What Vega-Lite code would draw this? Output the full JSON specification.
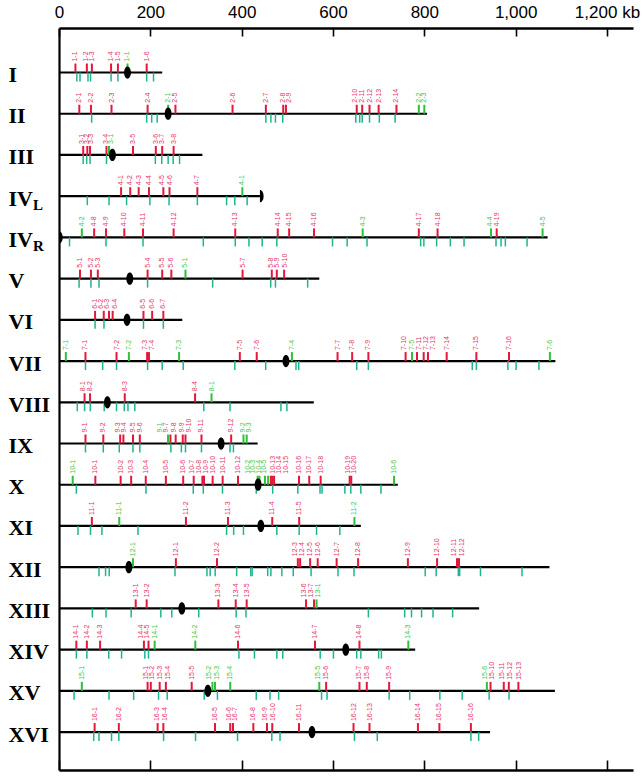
{
  "$schema": "https://vega.github.io/schema/vega-lite/v6.json",
  "width": 574,
  "height": 742,
  "autosize": "none",
  "padding": {"left": 59, "top": 28, "right": 9, "bottom": 9},
  "background": "white",
  "config": {"view": {"stroke": null}},
  "datasets": {
    "chrom": [
      {"chr": "I", "len": 226, "cen": 150},
      {"chr": "II", "len": 806, "cen": 239},
      {"chr": "III", "len": 314, "cen": 117},
      {"chr": "IVL", "len": 440, "cen": 440},
      {"chr": "IVR", "len": 1070, "cen": 0},
      {"chr": "V", "len": 570, "cen": 155},
      {"chr": "VI", "len": 270, "cen": 149},
      {"chr": "VII", "len": 1087, "cen": 497},
      {"chr": "VIII", "len": 558, "cen": 106},
      {"chr": "IX", "len": 435, "cen": 355},
      {"chr": "X", "len": 742, "cen": 436},
      {"chr": "XI", "len": 661, "cen": 442},
      {"chr": "XII", "len": 1074, "cen": 153},
      {"chr": "XIII", "len": 920, "cen": 269},
      {"chr": "XIV", "len": 780, "cen": 628},
      {"chr": "XV", "len": 1086, "cen": 326},
      {"chr": "XVI", "len": 944, "cen": 554}
    ],
    "sub": [
      {"chr": "IVL", "s": "L"},
      {"chr": "IVR", "s": "R"}
    ],
    "above": [
      {"chr": "I", "kb": 36, "lkb": 36, "lab": "1-1", "kind": "r"},
      {"chr": "I", "kb": 61, "lkb": 59, "lab": "1-2", "kind": "r"},
      {"chr": "I", "kb": 72, "lkb": 72, "lab": "1-3", "kind": "r"},
      {"chr": "I", "kb": 114, "lkb": 114, "lab": "1-4", "kind": "r"},
      {"chr": "I", "kb": 129, "lkb": 129, "lab": "1-5", "kind": "r"},
      {"chr": "I", "kb": 150, "lkb": 150, "lab": "1-1", "kind": "g"},
      {"chr": "I", "kb": 192, "lkb": 192, "lab": "1-6", "kind": "r"},
      {"chr": "II", "kb": 44.5, "lkb": 44.5, "lab": "2-1", "kind": "r"},
      {"chr": "II", "kb": 70, "lkb": 70, "lab": "2-2", "kind": "r"},
      {"chr": "II", "kb": 115, "lkb": 115, "lab": "2-3", "kind": "r"},
      {"chr": "II", "kb": 194, "lkb": 194, "lab": "2-4", "kind": "r"},
      {"chr": "II", "kb": 239, "lkb": 239, "lab": "2-1", "kind": "g"},
      {"chr": "II", "kb": 255, "lkb": 255, "lab": "2-5", "kind": "r"},
      {"chr": "II", "kb": 380, "lkb": 380, "lab": "2-6", "kind": "r"},
      {"chr": "II", "kb": 453, "lkb": 453, "lab": "2-7", "kind": "r"},
      {"chr": "II", "kb": 491, "lkb": 490, "lab": "2-8", "kind": "r"},
      {"chr": "II", "kb": 497, "lkb": 503, "lab": "2-9", "kind": "r"},
      {"chr": "II", "kb": 652, "lkb": 648, "lab": "2-10", "kind": "r"},
      {"chr": "II", "kb": 664, "lkb": 664, "lab": "2-11", "kind": "r"},
      {"chr": "II", "kb": 680, "lkb": 680, "lab": "2-12", "kind": "r"},
      {"chr": "II", "kb": 700, "lkb": 700, "lab": "2-13", "kind": "r"},
      {"chr": "II", "kb": 739, "lkb": 739, "lab": "2-14", "kind": "r"},
      {"chr": "II", "kb": 788, "lkb": 788, "lab": "2-2", "kind": "g"},
      {"chr": "II", "kb": 800, "lkb": 800, "lab": "2-3", "kind": "g"},
      {"chr": "III", "kb": 53, "lkb": 51, "lab": "3-1", "kind": "r"},
      {"chr": "III", "kb": 62, "lkb": 61, "lab": "3-2", "kind": "r"},
      {"chr": "III", "kb": 68, "lkb": 70, "lab": "3-3", "kind": "r"},
      {"chr": "III", "kb": 104, "lkb": 103, "lab": "3-4", "kind": "r"},
      {"chr": "III", "kb": 109.5, "lkb": 114, "lab": "3-1", "kind": "g"},
      {"chr": "III", "kb": 162, "lkb": 162, "lab": "3-5", "kind": "r"},
      {"chr": "III", "kb": 212, "lkb": 212, "lab": "3-6", "kind": "r"},
      {"chr": "III", "kb": 226, "lkb": 226, "lab": "3-7", "kind": "r"},
      {"chr": "III", "kb": 251, "lkb": 251, "lab": "3-8", "kind": "r"},
      {"chr": "IVL", "kb": 136, "lkb": 136, "lab": "4-1", "kind": "r"},
      {"chr": "IVL", "kb": 156, "lkb": 156, "lab": "4-2", "kind": "r"},
      {"chr": "IVL", "kb": 174.5, "lkb": 174.5, "lab": "4-3", "kind": "r"},
      {"chr": "IVL", "kb": 197, "lkb": 197, "lab": "4-4", "kind": "r"},
      {"chr": "IVL", "kb": 228.5, "lkb": 226, "lab": "4-5", "kind": "r"},
      {"chr": "IVL", "kb": 242, "lkb": 242, "lab": "4-6", "kind": "r"},
      {"chr": "IVL", "kb": 303, "lkb": 303, "lab": "4-7", "kind": "r"},
      {"chr": "IVL", "kb": 401.5, "lkb": 401.5, "lab": "4-1", "kind": "g"},
      {"chr": "IVR", "kb": 50, "lkb": 50, "lab": "4-2", "kind": "g"},
      {"chr": "IVR", "kb": 77, "lkb": 77, "lab": "4-8", "kind": "r"},
      {"chr": "IVR", "kb": 103, "lkb": 103, "lab": "4-9", "kind": "r"},
      {"chr": "IVR", "kb": 143, "lkb": 143, "lab": "4-10", "kind": "r"},
      {"chr": "IVR", "kb": 184, "lkb": 184, "lab": "4-11", "kind": "r"},
      {"chr": "IVR", "kb": 251, "lkb": 251, "lab": "4-12", "kind": "r"},
      {"chr": "IVR", "kb": 386, "lkb": 386, "lab": "4-13", "kind": "r"},
      {"chr": "IVR", "kb": 479, "lkb": 479, "lab": "4-14", "kind": "r"},
      {"chr": "IVR", "kb": 504, "lkb": 504, "lab": "4-15", "kind": "r"},
      {"chr": "IVR", "kb": 558.5, "lkb": 558.5, "lab": "4-16", "kind": "r"},
      {"chr": "IVR", "kb": 665, "lkb": 665, "lab": "4-3", "kind": "g"},
      {"chr": "IVR", "kb": 788, "lkb": 788, "lab": "4-17", "kind": "r"},
      {"chr": "IVR", "kb": 829, "lkb": 829, "lab": "4-18", "kind": "r"},
      {"chr": "IVR", "kb": 946, "lkb": 944, "lab": "4-4", "kind": "g"},
      {"chr": "IVR", "kb": 958.5, "lkb": 960, "lab": "4-19", "kind": "r"},
      {"chr": "IVR", "kb": 1059, "lkb": 1059, "lab": "4-5", "kind": "g"},
      {"chr": "V", "kb": 46, "lkb": 46, "lab": "5-1", "kind": "r"},
      {"chr": "V", "kb": 70, "lkb": 70, "lab": "5-2", "kind": "r"},
      {"chr": "V", "kb": 85, "lkb": 85, "lab": "5-3", "kind": "r"},
      {"chr": "V", "kb": 194, "lkb": 194, "lab": "5-4", "kind": "r"},
      {"chr": "V", "kb": 226, "lkb": 226, "lab": "5-5", "kind": "r"},
      {"chr": "V", "kb": 246, "lkb": 246, "lab": "5-6", "kind": "r"},
      {"chr": "V", "kb": 277, "lkb": 277, "lab": "5-1", "kind": "g"},
      {"chr": "V", "kb": 402, "lkb": 402, "lab": "5-7", "kind": "r"},
      {"chr": "V", "kb": 466, "lkb": 463.6, "lab": "5-8", "kind": "r"},
      {"chr": "V", "kb": 477, "lkb": 478, "lab": "5-9", "kind": "r"},
      {"chr": "V", "kb": 493, "lkb": 495, "lab": "5-10", "kind": "r"},
      {"chr": "VI", "kb": 79, "lkb": 79.6, "lab": "6-1", "kind": "r"},
      {"chr": "VI", "kb": 98, "lkb": 91, "lab": "6-2", "kind": "r"},
      {"chr": "VI", "kb": 109.5, "lkb": 106, "lab": "6-3", "kind": "r"},
      {"chr": "VI", "kb": 117.5, "lkb": 122.6, "lab": "6-4", "kind": "r"},
      {"chr": "VI", "kb": 185, "lkb": 185, "lab": "6-5", "kind": "r"},
      {"chr": "VI", "kb": 204, "lkb": 204, "lab": "6-6", "kind": "r"},
      {"chr": "VI", "kb": 228.5, "lkb": 228.5, "lab": "6-7", "kind": "r"},
      {"chr": "VII", "kb": 15, "lkb": 15, "lab": "7-1", "kind": "g"},
      {"chr": "VII", "kb": 58, "lkb": 58, "lab": "7-1", "kind": "r"},
      {"chr": "VII", "kb": 126, "lkb": 126, "lab": "7-2", "kind": "r"},
      {"chr": "VII", "kb": 153, "lkb": 153, "lab": "7-2", "kind": "g"},
      {"chr": "VII", "kb": 193, "lkb": 188, "lab": "7-3", "kind": "r"},
      {"chr": "VII", "kb": 197, "lkb": 203, "lab": "7-4", "kind": "r"},
      {"chr": "VII", "kb": 263, "lkb": 263, "lab": "7-3", "kind": "g"},
      {"chr": "VII", "kb": 396, "lkb": 396, "lab": "7-5", "kind": "r"},
      {"chr": "VII", "kb": 433, "lkb": 433, "lab": "7-6", "kind": "r"},
      {"chr": "VII", "kb": 510, "lkb": 510, "lab": "7-4", "kind": "g"},
      {"chr": "VII", "kb": 610, "lkb": 610, "lab": "7-7", "kind": "r"},
      {"chr": "VII", "kb": 642, "lkb": 642, "lab": "7-8", "kind": "r"},
      {"chr": "VII", "kb": 677.5, "lkb": 677.5, "lab": "7-9", "kind": "r"},
      {"chr": "VII", "kb": 759, "lkb": 755.6, "lab": "7-10", "kind": "r"},
      {"chr": "VII", "kb": 773, "lkb": 772.4, "lab": "7-5", "kind": "g"},
      {"chr": "VII", "kb": 784, "lkb": 788.4, "lab": "7-11", "kind": "r"},
      {"chr": "VII", "kb": 798.6, "lkb": 803.7, "lab": "7-12", "kind": "r"},
      {"chr": "VII", "kb": 808, "lkb": 819.8, "lab": "7-13", "kind": "r"},
      {"chr": "VII", "kb": 849, "lkb": 849, "lab": "7-14", "kind": "r"},
      {"chr": "VII", "kb": 914, "lkb": 914, "lab": "7-15", "kind": "r"},
      {"chr": "VII", "kb": 985.5, "lkb": 985.5, "lab": "7-16", "kind": "r"},
      {"chr": "VII", "kb": 1075, "lkb": 1075, "lab": "7-6", "kind": "g"},
      {"chr": "VIII", "kb": 56, "lkb": 52, "lab": "8-1", "kind": "r"},
      {"chr": "VIII", "kb": 68, "lkb": 68, "lab": "8-2", "kind": "r"},
      {"chr": "VIII", "kb": 144, "lkb": 144, "lab": "8-3", "kind": "r"},
      {"chr": "VIII", "kb": 298, "lkb": 298, "lab": "8-4", "kind": "r"},
      {"chr": "VIII", "kb": 334, "lkb": 334, "lab": "8-1", "kind": "g"},
      {"chr": "IX", "kb": 58, "lkb": 58, "lab": "9-1", "kind": "r"},
      {"chr": "IX", "kb": 97, "lkb": 97, "lab": "9-2", "kind": "r"},
      {"chr": "IX", "kb": 134, "lkb": 130, "lab": "9-3", "kind": "r"},
      {"chr": "IX", "kb": 141, "lkb": 142.4, "lab": "9-4", "kind": "r"},
      {"chr": "IX", "kb": 162, "lkb": 162, "lab": "9-5", "kind": "r"},
      {"chr": "IX", "kb": 177, "lkb": 177, "lab": "9-6", "kind": "r"},
      {"chr": "IX", "kb": 238.7, "lkb": 221, "lab": "9-1", "kind": "g"},
      {"chr": "IX", "kb": 244, "lkb": 233.6, "lab": "9-7", "kind": "r"},
      {"chr": "IX", "kb": 255.5, "lkb": 252, "lab": "9-8", "kind": "r"},
      {"chr": "IX", "kb": 271, "lkb": 268.6, "lab": "9-9", "kind": "r"},
      {"chr": "IX", "kb": 277, "lkb": 284.7, "lab": "9-10", "kind": "r"},
      {"chr": "IX", "kb": 312, "lkb": 312, "lab": "9-11", "kind": "r"},
      {"chr": "IX", "kb": 377, "lkb": 377, "lab": "9-12", "kind": "r"},
      {"chr": "IX", "kb": 404, "lkb": 404, "lab": "9-2", "kind": "g"},
      {"chr": "IX", "kb": 411, "lkb": 415.4, "lab": "9-3", "kind": "g"},
      {"chr": "X", "kb": 30, "lkb": 30, "lab": "10-1", "kind": "g"},
      {"chr": "X", "kb": 79.6, "lkb": 79.6, "lab": "10-1", "kind": "r"},
      {"chr": "X", "kb": 135, "lkb": 135, "lab": "10-2", "kind": "r"},
      {"chr": "X", "kb": 158, "lkb": 158, "lab": "10-3", "kind": "r"},
      {"chr": "X", "kb": 190, "lkb": 190, "lab": "10-4", "kind": "r"},
      {"chr": "X", "kb": 234, "lkb": 234, "lab": "10-5", "kind": "r"},
      {"chr": "X", "kb": 272, "lkb": 272, "lab": "10-6", "kind": "r"},
      {"chr": "X", "kb": 295, "lkb": 290.5, "lab": "10-7", "kind": "r"},
      {"chr": "X", "kb": 314, "lkb": 306.6, "lab": "10-8", "kind": "r"},
      {"chr": "X", "kb": 317.6, "lkb": 321.2, "lab": "10-9", "kind": "r"},
      {"chr": "X", "kb": 336.5, "lkb": 336.5, "lab": "10-10", "kind": "r"},
      {"chr": "X", "kb": 358.4, "lkb": 358.4, "lab": "10-11", "kind": "r"},
      {"chr": "X", "kb": 392, "lkb": 392, "lab": "10-12", "kind": "r"},
      {"chr": "X", "kb": 435, "lkb": 414.7, "lab": "10-2", "kind": "g"},
      {"chr": "X", "kb": 439, "lkb": 425.6, "lab": "10-3", "kind": "g"},
      {"chr": "X", "kb": 451, "lkb": 437.3, "lab": "10-4", "kind": "g"},
      {"chr": "X", "kb": 458, "lkb": 449, "lab": "10-5", "kind": "g"},
      {"chr": "X", "kb": 464, "lkb": 469.4, "lab": "10-13", "kind": "r"},
      {"chr": "X", "kb": 467, "lkb": 482.5, "lab": "10-14", "kind": "r"},
      {"chr": "X", "kb": 471, "lkb": 497, "lab": "10-15", "kind": "r"},
      {"chr": "X", "kb": 525.6, "lkb": 525.6, "lab": "10-16", "kind": "r"},
      {"chr": "X", "kb": 548, "lkb": 548, "lab": "10-17", "kind": "r"},
      {"chr": "X", "kb": 573, "lkb": 573, "lab": "10-18", "kind": "r"},
      {"chr": "X", "kb": 636.5, "lkb": 633, "lab": "10-19", "kind": "r"},
      {"chr": "X", "kb": 640, "lkb": 646, "lab": "10-20", "kind": "r"},
      {"chr": "X", "kb": 733.7, "lkb": 733.7, "lab": "10-6", "kind": "g"},
      {"chr": "XI", "kb": 72, "lkb": 72, "lab": "11-1", "kind": "r"},
      {"chr": "XI", "kb": 132, "lkb": 132, "lab": "11-1", "kind": "g"},
      {"chr": "XI", "kb": 278, "lkb": 278, "lab": "11-2", "kind": "r"},
      {"chr": "XI", "kb": 370, "lkb": 370, "lab": "11-3", "kind": "r"},
      {"chr": "XI", "kb": 467, "lkb": 467, "lab": "11-4", "kind": "r"},
      {"chr": "XI", "kb": 526, "lkb": 526, "lab": "11-5", "kind": "r"},
      {"chr": "XI", "kb": 647, "lkb": 647, "lab": "11-2", "kind": "g"},
      {"chr": "XII", "kb": 162, "lkb": 162, "lab": "12-1", "kind": "g"},
      {"chr": "XII", "kb": 256, "lkb": 256, "lab": "12-1", "kind": "r"},
      {"chr": "XII", "kb": 346, "lkb": 346, "lab": "12-2", "kind": "r"},
      {"chr": "XII", "kb": 523, "lkb": 517, "lab": "12-3", "kind": "r"},
      {"chr": "XII", "kb": 528, "lkb": 532, "lab": "12-4", "kind": "r"},
      {"chr": "XII", "kb": 550, "lkb": 550, "lab": "12-5", "kind": "r"},
      {"chr": "XII", "kb": 566.5, "lkb": 568, "lab": "12-6", "kind": "r"},
      {"chr": "XII", "kb": 608, "lkb": 608, "lab": "12-7", "kind": "r"},
      {"chr": "XII", "kb": 655, "lkb": 655, "lab": "12-8", "kind": "r"},
      {"chr": "XII", "kb": 764, "lkb": 764, "lab": "12-9", "kind": "r"},
      {"chr": "XII", "kb": 828, "lkb": 828, "lab": "12-10", "kind": "r"},
      {"chr": "XII", "kb": 871.6, "lkb": 866, "lab": "12-11", "kind": "r"},
      {"chr": "XII", "kb": 876, "lkb": 882, "lab": "12-12", "kind": "r"},
      {"chr": "XIII", "kb": 168, "lkb": 168, "lab": "13-1", "kind": "r"},
      {"chr": "XIII", "kb": 192, "lkb": 192, "lab": "13-2", "kind": "r"},
      {"chr": "XIII", "kb": 349, "lkb": 349, "lab": "13-3", "kind": "r"},
      {"chr": "XIII", "kb": 387, "lkb": 387, "lab": "13-4", "kind": "r"},
      {"chr": "XIII", "kb": 411, "lkb": 411, "lab": "13-5", "kind": "r"},
      {"chr": "XIII", "kb": 541, "lkb": 536.6, "lab": "13-6", "kind": "r"},
      {"chr": "XIII", "kb": 558.5, "lkb": 551, "lab": "13-7", "kind": "r"},
      {"chr": "XIII", "kb": 564, "lkb": 568, "lab": "13-1", "kind": "g"},
      {"chr": "XIV", "kb": 38, "lkb": 38, "lab": "14-1", "kind": "r"},
      {"chr": "XIV", "kb": 61, "lkb": 61, "lab": "14-2", "kind": "r"},
      {"chr": "XIV", "kb": 90, "lkb": 90, "lab": "14-3", "kind": "r"},
      {"chr": "XIV", "kb": 186, "lkb": 180, "lab": "14-4", "kind": "r"},
      {"chr": "XIV", "kb": 196, "lkb": 193.5, "lab": "14-5", "kind": "r"},
      {"chr": "XIV", "kb": 209.5, "lkb": 209.5, "lab": "14-1", "kind": "g"},
      {"chr": "XIV", "kb": 298.5, "lkb": 298.5, "lab": "14-2", "kind": "g"},
      {"chr": "XIV", "kb": 392, "lkb": 392, "lab": "14-6", "kind": "r"},
      {"chr": "XIV", "kb": 560.6, "lkb": 560.6, "lab": "14-7", "kind": "r"},
      {"chr": "XIV", "kb": 658, "lkb": 658, "lab": "14-8", "kind": "r"},
      {"chr": "XIV", "kb": 765, "lkb": 765, "lab": "14-3", "kind": "g"},
      {"chr": "XV", "kb": 50, "lkb": 50, "lab": "15-1", "kind": "g"},
      {"chr": "XV", "kb": 194, "lkb": 190, "lab": "15-1", "kind": "r"},
      {"chr": "XV", "kb": 201, "lkb": 204, "lab": "15-2", "kind": "r"},
      {"chr": "XV", "kb": 220.5, "lkb": 220.5, "lab": "15-3", "kind": "r"},
      {"chr": "XV", "kb": 234, "lkb": 238.7, "lab": "15-4", "kind": "r"},
      {"chr": "XV", "kb": 290.6, "lkb": 290.6, "lab": "15-5", "kind": "r"},
      {"chr": "XV", "kb": 336, "lkb": 329, "lab": "15-2", "kind": "g"},
      {"chr": "XV", "kb": 341.6, "lkb": 346.8, "lab": "15-3", "kind": "g"},
      {"chr": "XV", "kb": 375, "lkb": 375, "lab": "15-4", "kind": "g"},
      {"chr": "XV", "kb": 570, "lkb": 568, "lab": "15-5", "kind": "g"},
      {"chr": "XV", "kb": 585, "lkb": 585, "lab": "15-6", "kind": "r"},
      {"chr": "XV", "kb": 658, "lkb": 658, "lab": "15-7", "kind": "r"},
      {"chr": "XV", "kb": 674, "lkb": 674, "lab": "15-8", "kind": "r"},
      {"chr": "XV", "kb": 723, "lkb": 723, "lab": "15-9", "kind": "r"},
      {"chr": "XV", "kb": 937, "lkb": 932, "lab": "15-6", "kind": "g"},
      {"chr": "XV", "kb": 945, "lkb": 948, "lab": "15-10", "kind": "r"},
      {"chr": "XV", "kb": 974, "lkb": 969.5, "lab": "15-11", "kind": "r"},
      {"chr": "XV", "kb": 985, "lkb": 987.7, "lab": "15-12", "kind": "r"},
      {"chr": "XV", "kb": 1006, "lkb": 1007, "lab": "15-13", "kind": "r"},
      {"chr": "XVI", "kb": 78, "lkb": 78, "lab": "16-1", "kind": "r"},
      {"chr": "XVI", "kb": 131, "lkb": 131, "lab": "16-2", "kind": "r"},
      {"chr": "XVI", "kb": 216, "lkb": 214, "lab": "16-3", "kind": "r"},
      {"chr": "XVI", "kb": 228.5, "lkb": 232, "lab": "16-4", "kind": "r"},
      {"chr": "XVI", "kb": 341.6, "lkb": 341.6, "lab": "16-5", "kind": "r"},
      {"chr": "XVI", "kb": 375, "lkb": 371.6, "lab": "16-6", "kind": "r"},
      {"chr": "XVI", "kb": 381, "lkb": 386, "lab": "16-7", "kind": "r"},
      {"chr": "XVI", "kb": 425.6, "lkb": 425.6, "lab": "16-8", "kind": "r"},
      {"chr": "XVI", "kb": 455.5, "lkb": 451, "lab": "16-9", "kind": "r"},
      {"chr": "XVI", "kb": 467, "lkb": 469.4, "lab": "16-10", "kind": "r"},
      {"chr": "XVI", "kb": 525.6, "lkb": 525.6, "lab": "16-11", "kind": "r"},
      {"chr": "XVI", "kb": 645, "lkb": 645, "lab": "16-12", "kind": "r"},
      {"chr": "XVI", "kb": 680, "lkb": 680, "lab": "16-13", "kind": "r"},
      {"chr": "XVI", "kb": 786, "lkb": 786, "lab": "16-14", "kind": "r"},
      {"chr": "XVI", "kb": 833, "lkb": 833, "lab": "16-15", "kind": "r"},
      {"chr": "XVI", "kb": 902, "lkb": 902, "lab": "16-16", "kind": "r"}
    ],
    "below": [
      {"chr": "I", "kb": 39}, {"chr": "I", "kb": 46}, {"chr": "I", "kb": 63.5}, {"chr": "I", "kb": 69}, {"chr": "I", "kb": 114}, {"chr": "I", "kb": 129}, {"chr": "I", "kb": 192}, {"chr": "I", "kb": 207},
      {"chr": "II", "kb": 71.5}, {"chr": "II", "kb": 192}, {"chr": "II", "kb": 203}, {"chr": "II", "kb": 215}, {"chr": "II", "kb": 453}, {"chr": "II", "kb": 464}, {"chr": "II", "kb": 474}, {"chr": "II", "kb": 490}, {"chr": "II", "kb": 650}, {"chr": "II", "kb": 658.5}, {"chr": "II", "kb": 664}, {"chr": "II", "kb": 680}, {"chr": "II", "kb": 701.5}, {"chr": "II", "kb": 736},
      {"chr": "III", "kb": 53}, {"chr": "III", "kb": 60.6}, {"chr": "III", "kb": 68}, {"chr": "III", "kb": 104}, {"chr": "III", "kb": 211}, {"chr": "III", "kb": 225}, {"chr": "III", "kb": 239}, {"chr": "III", "kb": 250}, {"chr": "III", "kb": 264},
      {"chr": "IVL", "kb": 62}, {"chr": "IVL", "kb": 109.5}, {"chr": "IVL", "kb": 148}, {"chr": "IVL", "kb": 199}, {"chr": "IVL", "kb": 241}, {"chr": "IVL", "kb": 303}, {"chr": "IVL", "kb": 367}, {"chr": "IVL", "kb": 385}, {"chr": "IVL", "kb": 412},
      {"chr": "IVR", "kb": 23}, {"chr": "IVR", "kb": 103}, {"chr": "IVR", "kb": 184}, {"chr": "IVR", "kb": 316}, {"chr": "IVR", "kb": 386}, {"chr": "IVR", "kb": 416}, {"chr": "IVR", "kb": 445}, {"chr": "IVR", "kb": 477}, {"chr": "IVR", "kb": 599}, {"chr": "IVR", "kb": 631}, {"chr": "IVR", "kb": 674.5}, {"chr": "IVR", "kb": 792}, {"chr": "IVR", "kb": 799}, {"chr": "IVR", "kb": 827}, {"chr": "IVR", "kb": 857}, {"chr": "IVR", "kb": 887}, {"chr": "IVR", "kb": 957}, {"chr": "IVR", "kb": 968}, {"chr": "IVR", "kb": 977.5}, {"chr": "IVR", "kb": 1025},
      {"chr": "V", "kb": 44}, {"chr": "V", "kb": 70}, {"chr": "V", "kb": 87.6}, {"chr": "V", "kb": 194}, {"chr": "V", "kb": 336.5}, {"chr": "V", "kb": 463.6}, {"chr": "V", "kb": 474}, {"chr": "V", "kb": 544.5},
      {"chr": "VI", "kb": 79}, {"chr": "VI", "kb": 98.5}, {"chr": "VI", "kb": 185}, {"chr": "VI", "kb": 228.5},
      {"chr": "VII", "kb": 58}, {"chr": "VII", "kb": 95.6}, {"chr": "VII", "kb": 126}, {"chr": "VII", "kb": 194}, {"chr": "VII", "kb": 226}, {"chr": "VII", "kb": 272}, {"chr": "VII", "kb": 385}, {"chr": "VII", "kb": 452.6}, {"chr": "VII", "kb": 519}, {"chr": "VII", "kb": 525}, {"chr": "VII", "kb": 652}, {"chr": "VII", "kb": 677.5}, {"chr": "VII", "kb": 905}, {"chr": "VII", "kb": 914}, {"chr": "VII", "kb": 983}, {"chr": "VII", "kb": 1001}, {"chr": "VII", "kb": 1051},
      {"chr": "VIII", "kb": 40}, {"chr": "VIII", "kb": 56}, {"chr": "VIII", "kb": 68.6}, {"chr": "VIII", "kb": 99}, {"chr": "VIII", "kb": 126}, {"chr": "VIII", "kb": 143}, {"chr": "VIII", "kb": 151}, {"chr": "VIII", "kb": 166}, {"chr": "VIII", "kb": 317}, {"chr": "VIII", "kb": 374.5}, {"chr": "VIII", "kb": 486}, {"chr": "VIII", "kb": 499},
      {"chr": "IX", "kb": 58}, {"chr": "IX", "kb": 97}, {"chr": "IX", "kb": 132}, {"chr": "IX", "kb": 162}, {"chr": "IX", "kb": 177}, {"chr": "IX", "kb": 245}, {"chr": "IX", "kb": 268}, {"chr": "IX", "kb": 277}, {"chr": "IX", "kb": 312}, {"chr": "IX", "kb": 374.5}, {"chr": "IX", "kb": 382},
      {"chr": "X", "kb": 38}, {"chr": "X", "kb": 190.5}, {"chr": "X", "kb": 294}, {"chr": "X", "kb": 316}, {"chr": "X", "kb": 358}, {"chr": "X", "kb": 432}, {"chr": "X", "kb": 468}, {"chr": "X", "kb": 523}, {"chr": "X", "kb": 571.6}, {"chr": "X", "kb": 576}, {"chr": "X", "kb": 626}, {"chr": "X", "kb": 639}, {"chr": "X", "kb": 661}, {"chr": "X", "kb": 705},
      {"chr": "XI", "kb": 41.6}, {"chr": "XI", "kb": 69}, {"chr": "XI", "kb": 94}, {"chr": "XI", "kb": 173}, {"chr": "XI", "kb": 367}, {"chr": "XI", "kb": 382.5}, {"chr": "XI", "kb": 404}, {"chr": "XI", "kb": 477}, {"chr": "XI", "kb": 526}, {"chr": "XI", "kb": 564}, {"chr": "XI", "kb": 615},
      {"chr": "XII", "kb": 87.6}, {"chr": "XII", "kb": 102}, {"chr": "XII", "kb": 110}, {"chr": "XII", "kb": 254}, {"chr": "XII", "kb": 324}, {"chr": "XII", "kb": 331}, {"chr": "XII", "kb": 342}, {"chr": "XII", "kb": 389}, {"chr": "XII", "kb": 420}, {"chr": "XII", "kb": 423}, {"chr": "XII", "kb": 457}, {"chr": "XII", "kb": 464}, {"chr": "XII", "kb": 488}, {"chr": "XII", "kb": 513}, {"chr": "XII", "kb": 552}, {"chr": "XII", "kb": 611}, {"chr": "XII", "kb": 646}, {"chr": "XII", "kb": 802}, {"chr": "XII", "kb": 826}, {"chr": "XII", "kb": 874.5}, {"chr": "XII", "kb": 877.4}, {"chr": "XII", "kb": 923}, {"chr": "XII", "kb": 1014},
      {"chr": "XIII", "kb": 73}, {"chr": "XIII", "kb": 103}, {"chr": "XIII", "kb": 158}, {"chr": "XIII", "kb": 223}, {"chr": "XIII", "kb": 247}, {"chr": "XIII", "kb": 306}, {"chr": "XIII", "kb": 388}, {"chr": "XIII", "kb": 409.5}, {"chr": "XIII", "kb": 677.5}, {"chr": "XIII", "kb": 757}, {"chr": "XIII", "kb": 772}, {"chr": "XIII", "kb": 794}, {"chr": "XIII", "kb": 819}, {"chr": "XIII", "kb": 862},
      {"chr": "XIV", "kb": 38}, {"chr": "XIV", "kb": 61}, {"chr": "XIV", "kb": 109}, {"chr": "XIV", "kb": 137}, {"chr": "XIV", "kb": 188}, {"chr": "XIV", "kb": 196}, {"chr": "XIV", "kb": 394}, {"chr": "XIV", "kb": 428}, {"chr": "XIV", "kb": 477}, {"chr": "XIV", "kb": 490}, {"chr": "XIV", "kb": 572}, {"chr": "XIV", "kb": 601}, {"chr": "XIV", "kb": 652}, {"chr": "XIV", "kb": 661}, {"chr": "XIV", "kb": 700}, {"chr": "XIV", "kb": 706},
      {"chr": "XV", "kb": 33}, {"chr": "XV", "kb": 109.5}, {"chr": "XV", "kb": 163.5}, {"chr": "XV", "kb": 218}, {"chr": "XV", "kb": 237}, {"chr": "XV", "kb": 318}, {"chr": "XV", "kb": 347}, {"chr": "XV", "kb": 432}, {"chr": "XV", "kb": 462}, {"chr": "XV", "kb": 481}, {"chr": "XV", "kb": 575}, {"chr": "XV", "kb": 587}, {"chr": "XV", "kb": 723}, {"chr": "XV", "kb": 768}, {"chr": "XV", "kb": 834}, {"chr": "XV", "kb": 883}, {"chr": "XV", "kb": 942}, {"chr": "XV", "kb": 985.5},
      {"chr": "XVI", "kb": 76}, {"chr": "XVI", "kb": 87.6}, {"chr": "XVI", "kb": 115}, {"chr": "XVI", "kb": 131}, {"chr": "XVI", "kb": 229}, {"chr": "XVI", "kb": 299}, {"chr": "XVI", "kb": 391}, {"chr": "XVI", "kb": 466}, {"chr": "XVI", "kb": 484}, {"chr": "XVI", "kb": 647}, {"chr": "XVI", "kb": 697}, {"chr": "XVI", "kb": 902}, {"chr": "XVI", "kb": 919}
    ]
  },
  "resolve": {"axis": {"x": "independent"}},
  "layer": [
    {
      "data": {"name": "chrom"},
      "mark": {"type": "rule", "color": "black", "strokeWidth": 2.2},
      "encoding": {
        "x": {"field": "len", "type": "quantitative",
          "scale": {"domain": [0, 1257], "nice": false, "zero": false},
          "axis": {"orient": "top", "title": null, "values": [0, 200, 400, 600, 800, 1000, 1200],
            "labelExpr": "datum.value == 1200 ? '1,200 kb' : format(datum.value, ',')",
            "labelFont": "Liberation Sans", "labelFontSize": 17, "labelColor": "black",
            "labelFlush": false, "labelOverlap": false, "labelPadding": 15,
            "domainColor": "black", "domainWidth": 2.4, "tickColor": "black", "tickWidth": 1.6, "tickSize": -8, "grid": false}},
        "x2": {"datum": 0},
        "y": {"field": "chr", "type": "nominal",
          "scale": {"type": "point", "domain": ["I", "II", "III", "IVL", "IVR", "V", "VI", "VII", "VIII", "IX", "X", "XI", "XII", "XIII", "XIV", "XV", "XVI"], "padding": 1.104, "align": 0.54},
          "axis": {"title": null, "orient": "left", "ticks": false, "tickSize": 0, "labelPadding": 51, "labelAlign": "left", "labelBaseline": "middle", "labelOffset": 2,
            "labelFont": "Liberation Serif", "labelFontWeight": "bold", "labelFontSize": 22, "labelColor": "black", "labelOverlap": false,
            "labelExpr": "datum.value == 'IVL' || datum.value == 'IVR' ? 'IV' : datum.value",
            "domainColor": "black", "domainWidth": 2.2, "grid": false}}
      }
    },
    {
      "data": {"name": "below"},
      "mark": {"type": "tick", "color": "#1fb48e", "thickness": 1.5, "size": 9, "yOffset": 4.5, "opacity": 1},
      "encoding": {
        "x": {"field": "kb", "type": "quantitative",
          "scale": {"domain": [0, 1257], "nice": false, "zero": false},
          "axis": {"orient": "bottom", "title": null, "values": [0, 200, 400, 600, 800, 1000, 1200], "labels": false,
            "domainColor": "black", "domainWidth": 2.4, "tickColor": "black", "tickWidth": 1.6, "tickSize": -10, "grid": false}},
        "y": {"field": "chr", "type": "nominal"}
      }
    },
    {
      "data": {"name": "above"},
      "mark": {"type": "tick", "thickness": 2, "size": 9, "yOffset": -4.5, "opacity": 1},
      "encoding": {
        "x": {"field": "kb", "type": "quantitative", "scale": {"domain": [0, 1257], "nice": false, "zero": false}, "axis": null},
        "y": {"field": "chr", "type": "nominal"},
        "color": {"condition": {"test": "datum.kind == 'g'", "value": "#2fbf3a"}, "value": "#e2173c"}
      }
    },
    {
      "data": {"name": "above"},
      "mark": {"type": "text", "angle": 270, "align": "left", "baseline": "middle", "yOffset": -11, "font": "Liberation Sans", "fontSize": 7},
      "encoding": {
        "x": {"field": "lkb", "type": "quantitative", "scale": {"domain": [0, 1257], "nice": false, "zero": false}, "axis": null},
        "y": {"field": "chr", "type": "nominal"},
        "text": {"field": "lab"},
        "color": {"condition": {"test": "datum.kind == 'g'", "value": "#3cc848"}, "value": "#e6336c"}
      }
    },
    {
      "data": {"name": "chrom"},
      "transform": [{"filter": "datum.chr != 'IVL' && datum.chr != 'IVR'"}],
      "mark": {"type": "point", "shape": "M0,-1A0.56,1 0 1 1 0,1A0.56,1 0 1 1 0,-1Z", "size": 150, "filled": true, "color": "black", "opacity": 1, "strokeWidth": 0},
      "encoding": {
        "x": {"field": "cen", "type": "quantitative", "scale": {"domain": [0, 1257], "nice": false, "zero": false}, "axis": null},
        "y": {"field": "chr", "type": "nominal"}
      }
    },
    {
      "data": {"name": "chrom"},
      "transform": [{"filter": "datum.chr == 'IVL' || datum.chr == 'IVR'"}],
      "mark": {"type": "point", "shape": "M0,-1A0.6,1 0 0 1 0,1Z", "size": 150, "filled": true, "color": "black", "opacity": 1, "strokeWidth": 0},
      "encoding": {
        "x": {"field": "cen", "type": "quantitative", "scale": {"domain": [0, 1257], "nice": false, "zero": false}, "axis": null},
        "y": {"field": "chr", "type": "nominal"}
      }
    },
    {
      "data": {"name": "sub"},
      "mark": {"type": "text", "align": "left", "baseline": "middle", "dx": -26, "dy": 9, "font": "Liberation Serif", "fontWeight": "bold", "fontSize": 15, "color": "black"},
      "encoding": {
        "x": {"datum": 0, "type": "quantitative", "scale": {"domain": [0, 1257], "nice": false, "zero": false}, "axis": null},
        "y": {"field": "chr", "type": "nominal"},
        "text": {"field": "s"}
      }
    }
  ]
}
